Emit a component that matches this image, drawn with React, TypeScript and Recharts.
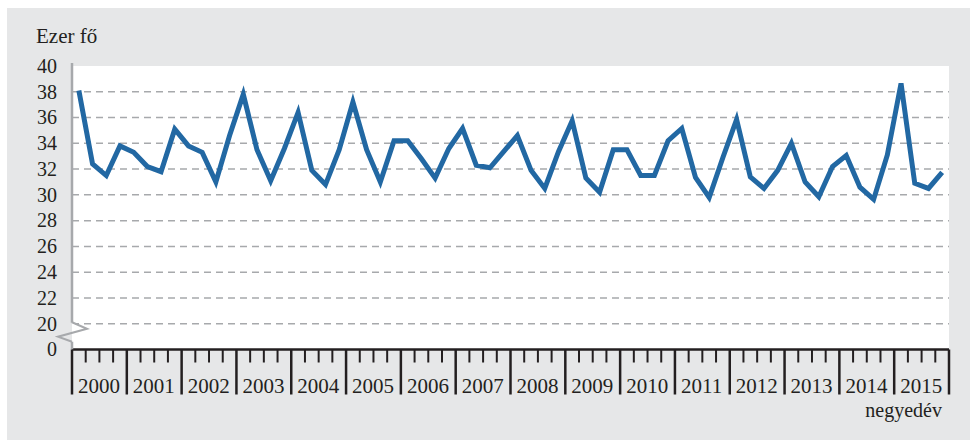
import { CartesianGrid, Line, LineChart, XAxis, YAxis } from "recharts";

const years = [2000, 2001, 2002, 2003, 2004, 2005, 2006, 2007, 2008, 2009, 2010, 2011, 2012, 2013, 2014, 2015];

// ezer fő, negyedévente (I-IV.)
const quarterValues = [
  38.1, 32.4, 31.5, 33.8, // 2000
  33.3, 32.2, 31.8, 35.1, // 2001
  33.8, 33.3, 31.0, 34.6, // 2002
  37.8, 33.5, 31.1, 33.6, // 2003
  36.4, 31.9, 30.8, 33.5, // 2004
  37.2, 33.5, 31.0, 34.2, // 2005
  34.2, 32.8, 31.3, 33.6, // 2006
  35.15, 32.3, 32.1, 33.35, // 2007
  34.6, 31.9, 30.5, 33.35, // 2008
  35.75, 31.3, 30.2, 33.5, // 2009
  33.5, 31.5, 31.5, 34.2, // 2010
  35.15, 31.35, 29.8, 32.9, // 2011
  35.85, 31.4, 30.5, 31.9, // 2012
  34.0, 31.0, 29.85, 32.2, // 2013
  33.05, 30.6, 29.65, 33.1, // 2014
  38.65, 30.9, 30.5, 31.75, // 2015
];

// 18 stands in for the broken part of the axis and is labelled "0"
const BREAK_VALUE = 18;
const yTicks = [18, 20, 22, 24, 26, 28, 30, 32, 34, 36, 38, 40];
const gridValues = [20, 22, 24, 26, 28, 30, 32, 34, 36, 38];

const unitLabel = "Ezer fő";
const periodLabel = "negyedév";

const data = quarterValues.map((value, i) => ({
  quarter: `${years[Math.floor(i / 4)]}/${(i % 4) + 1}`,
  year: years[Math.floor(i / 4)],
  value,
}));

const FONT = "'Liberation Serif', 'DejaVu Serif', serif";
const PANEL_BG = "#e6e7e8";
const AXIS_GREY = "#a7a9ac";
const INK = "#231f20";
const LINE_BLUE = "#2268a3";

const CHART_W = 970;
const CHART_H = 440;
const Y_AXIS_W = 72;
const RIGHT = 21;
const BAND = (CHART_W - Y_AXIS_W - RIGHT) / quarterValues.length;

function YTick(props: any) {
  const { x, y, payload } = props;
  const axisX = x + 15;
  const label = payload.value === BREAK_VALUE ? "0" : String(payload.value);
  return (
    <g>
      {payload.value === 40 && (
        <line x1={axisX} x2={axisX} y1={y - 3} y2={y} stroke={AXIS_GREY} strokeWidth={2.5} />
      )}
      {payload.value === BREAK_VALUE + 2 && (
        <g>
          <rect x={axisX - 2} y={y - 1} width={2} height={19} fill={PANEL_BG} />
          <rect x={axisX} y={y - 1} width={3} height={19} fill="#ffffff" />
          <polyline
            points={`${axisX},${y - 1.5} ${axisX + 15},${y + 5} ${axisX - 14},${y + 13} ${axisX},${y + 18}`}
            fill="none"
            stroke={AXIS_GREY}
            strokeWidth={2}
          />
        </g>
      )}
      <text x={x} y={y} dy="0.34em" textAnchor="end" fill={INK} fontFamily={FONT} fontSize={20}>
        {label}
      </text>
    </g>
  );
}

function QuarterTick(props: any) {
  const { x, y, payload, index } = props;
  const half = typeof payload.offset === "number" && payload.offset > 0 ? payload.offset : BAND / 2;
  const left = x - half;
  const isYearStart = index % 4 === 0;
  const isLast = index === data.length - 1;
  return (
    <g>
      <line
        x1={left}
        x2={left}
        y1={y}
        y2={y + (isYearStart ? 45 : 13)}
        stroke={INK}
        strokeWidth={isYearStart ? 2.5 : 2}
      />
      {isYearStart && (
        <text x={left + 6} y={y + 43} fill={INK} fontFamily={FONT} fontSize={21}>
          {data[index].year}
        </text>
      )}
      {isLast && <line x1={x + half} x2={x + half} y1={y} y2={y + 45} stroke={INK} strokeWidth={2.5} />}
    </g>
  );
}

export default function App() {
  return (
    <div style={{ position: "absolute", left: 0, top: 0, width: CHART_W, height: CHART_H, background: "#ffffff" }}>
      <div style={{ position: "absolute", left: 7, top: 8, right: 0, bottom: 0, background: PANEL_BG }} />
      <div
        style={{
          position: "absolute",
          left: 36,
          top: 26,
          fontFamily: FONT,
          fontSize: 21,
          lineHeight: 1,
          color: INK,
          whiteSpace: "nowrap",
        }}
      >
        {unitLabel}
      </div>
      <div
        style={{
          position: "absolute",
          right: CHART_W - 942,
          top: 400,
          fontFamily: FONT,
          fontSize: 20,
          lineHeight: 1,
          color: INK,
          whiteSpace: "nowrap",
        }}
      >
        {periodLabel}
      </div>
      <div style={{ position: "absolute", left: 0, top: 0 }}>
        <LineChart width={CHART_W} height={CHART_H} data={data} margin={{ top: 66, right: RIGHT, bottom: 0, left: 0 }}>
          <CartesianGrid
            fill="#ffffff"
            vertical={false}
            horizontalValues={gridValues}
            stroke={AXIS_GREY}
            strokeWidth={1.5}
            strokeDasharray="7 5"
          />
          <XAxis
            dataKey="quarter"
            type="category"
            scale="band"
            height={90.5}
            interval={0}
            axisLine={{ stroke: INK, strokeWidth: 2.5 }}
            tickLine={false}
            tickSize={0}
            tickMargin={0}
            tick={<QuarterTick />}
          />
          <YAxis
            type="number"
            domain={[BREAK_VALUE, 40]}
            ticks={yTicks}
            interval={0}
            allowDataOverflow
            width={Y_AXIS_W}
            axisLine={{ stroke: AXIS_GREY, strokeWidth: 2.5 }}
            tickLine={false}
            tickSize={0}
            tickMargin={15}
            tick={<YTick />}
          />
          <Line
            type="linear"
            dataKey="value"
            stroke={LINE_BLUE}
            strokeWidth={5}
            dot={false}
            activeDot={false}
            isAnimationActive={false}
          />
        </LineChart>
      </div>
    </div>
  );
}
